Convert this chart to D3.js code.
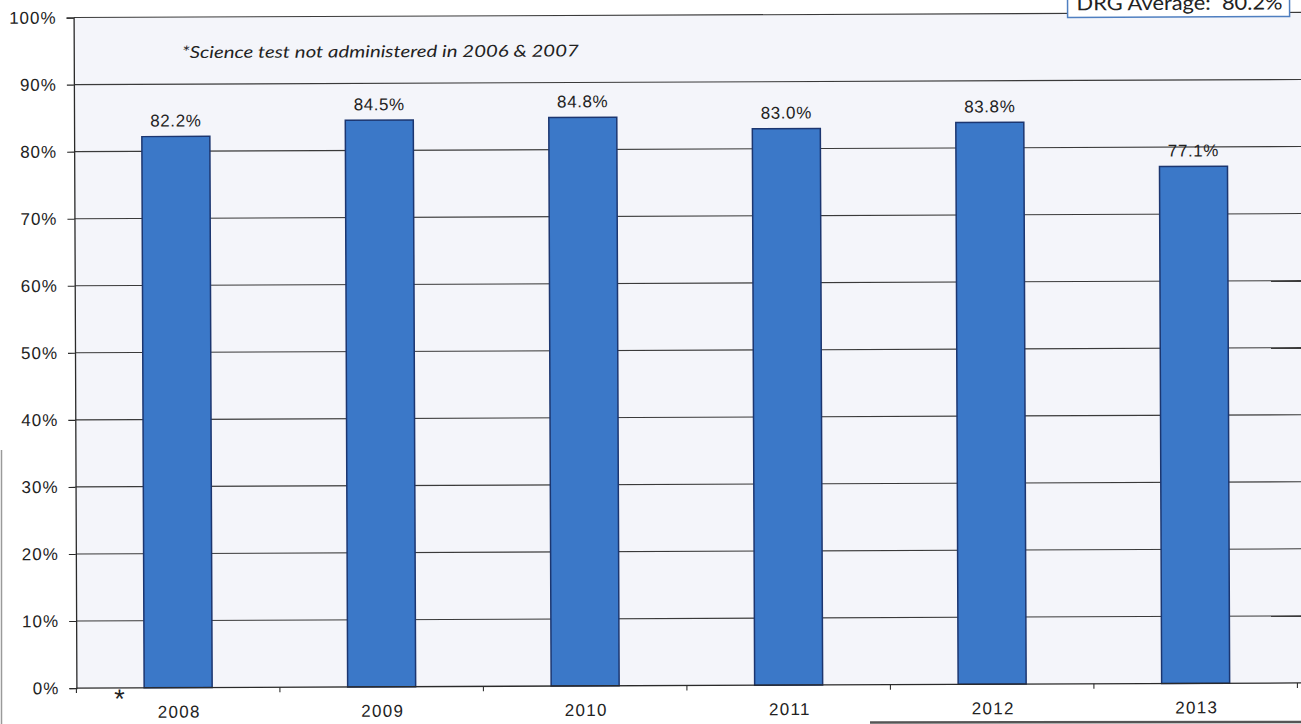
<!DOCTYPE html>
<html>
<head>
<meta charset="utf-8">
<script src="https://cdn.jsdelivr.net/npm/d3@7"></script>
<style>
  html, body { margin: 0; padding: 0; background: #ffffff; }
  svg { display: block; }
</style>
</head>
<body>
<svg id="chart" width="1301" height="724"></svg>
<script>
// Science results by year
const years = ["2008", "2009", "2010", "2011", "2012", "2013"];
const scores = [82.2, 84.5, 84.8, 83.0, 83.8, 77.1];
const yTicks = [0, 10, 20, 30, 40, 50, 60, 70, 80, 90, 100];
const noteText = "*Science test not administered in 2006 & 2007";
const averageText = "DRG Average:  80.2%";

const svg = d3.select("#chart");
const W = 1301, H = 724;

const plotLeft = 75, plotRight = 1296, plotTop = 15, plotBottom = 685.5;
const labelFont = "'Liberation Sans', Arial, sans-serif";

const x = d3.scaleBand().domain(years).range([plotLeft, plotRight]).padding(0);
const y = d3.scaleLinear().domain([0, 100]).range([plotBottom, plotTop]);
const barW = 68;

// whole chart sits very slightly tilted, like the printed page
const g = svg.append("g")
  .attr("transform", `rotate(-0.24, ${(plotLeft + plotRight) / 2}, ${(plotTop + plotBottom) / 2})`);

// plot area fill (runs off the right edge)
g.append("rect")
  .attr("x", plotLeft).attr("y", plotTop)
  .attr("width", W + 20 - plotLeft).attr("height", plotBottom - plotTop)
  .attr("fill", "#f4f5fa");

// horizontal gridlines
g.append("g")
  .selectAll("line")
  .data(yTicks.filter(d => d > 0))
  .join("line")
  .attr("x1", plotLeft).attr("x2", W + 20)
  .attr("y1", d => y(d)).attr("y2", d => y(d))
  .attr("stroke", "#3a3a3a")
  .attr("stroke-width", 1.1);

const rows = years.map((yr, i) => ({ yr, v: scores[i] }));

// bars
g.append("g")
  .selectAll("rect")
  .data(rows)
  .join("rect")
  .attr("x", d => x(d.yr) + x.bandwidth() / 2 - barW / 2)
  .attr("y", d => y(d.v))
  .attr("width", barW)
  .attr("height", d => y(0) - y(d.v))
  .attr("fill", "#3b78c8")
  .attr("stroke", "#1c3670")
  .attr("stroke-width", 1.5);

// value labels
g.append("g")
  .selectAll("text")
  .data(rows)
  .join("text")
  .attr("x", d => x(d.yr) + x.bandwidth() / 2)
  .attr("y", d => y(d.v) - 10)
  .attr("text-anchor", "middle")
  .attr("font-family", labelFont)
  .attr("font-size", 17)
  .attr("letter-spacing", 0.6)
  .attr("fill", "#222")
  .text(d => d.v.toFixed(1) + "%");

// y axis
const yAxis = d3.axisLeft(y)
  .tickValues(yTicks)
  .tickFormat(d => d + "%")
  .tickSize(7)
  .tickPadding(10);
const yg = g.append("g").attr("transform", `translate(${plotLeft},0)`).call(yAxis);
yg.select(".domain").attr("stroke", "#2a2a2a").attr("stroke-width", 1.3);
yg.selectAll(".tick line").attr("stroke", "#2a2a2a").attr("stroke-width", 1.1);
yg.selectAll(".tick text")
  .attr("font-family", labelFont)
  .attr("font-size", 17)
  .attr("letter-spacing", 1)
  .attr("fill", "#222");

// x axis with ticks at category boundaries
const xg = g.append("g").attr("transform", `translate(0,${plotBottom})`);
xg.append("line")
  .attr("x1", plotLeft).attr("x2", W + 20)
  .attr("y1", 0).attr("y2", 0)
  .attr("stroke", "#2a2a2a").attr("stroke-width", 1.3);
xg.selectAll("line.tk")
  .data(years.map(d => x(d)).concat([plotRight]))
  .join("line")
  .attr("class", "tk")
  .attr("x1", d => d).attr("x2", d => d)
  .attr("y1", 0).attr("y2", 5)
  .attr("stroke", "#2a2a2a").attr("stroke-width", 1.1);
xg.selectAll("text")
  .data(years)
  .join("text")
  .attr("x", d => x(d) + x.bandwidth() / 2 + 1)
  .attr("y", 30)
  .attr("text-anchor", "middle")
  .attr("font-family", labelFont)
  .attr("font-size", 17)
  .attr("letter-spacing", 1.3)
  .attr("fill", "#222")
  .text(d => d);

// asterisk under the first category
g.append("text")
  .attr("x", 118).attr("y", plotBottom + 20)
  .attr("text-anchor", "middle")
  .attr("font-family", labelFont)
  .attr("font-size", 27)
  .attr("fill", "#222")
  .text("*");

// footnote
g.append("text")
  .attr("x", 183).attr("y", 56)
  .attr("font-family", "Lato, 'Open Sans', sans-serif")
  .attr("font-style", "italic")
  .attr("font-size", 16.5)
  .attr("fill", "#222")
  .attr("textLength", 397)
  .attr("lengthAdjust", "spacingAndGlyphs")
  .text(noteText);

// average callout box
g.append("rect")
  .attr("x", 1069).attr("y", -10)
  .attr("width", 222).attr("height", 29)
  .attr("fill", "#ffffff")
  .attr("stroke", "#4f7fc0")
  .attr("stroke-width", 1.5);
g.append("text")
  .attr("x", 1078).attr("y", 12)
  .attr("font-family", "Lato, 'Open Sans', sans-serif")
  .attr("font-size", 20)
  .attr("fill", "#222")
  .attr("xml:space", "preserve")
  .style("white-space", "pre")
  .attr("textLength", 206)
  .attr("lengthAdjust", "spacingAndGlyphs")
  .text(averageText);

// page edges
svg.append("line")
  .attr("x1", 1.5).attr("x2", 1.5).attr("y1", 450).attr("y2", H)
  .attr("stroke", "#9a9a9a").attr("stroke-width", 1.5);
svg.append("line")
  .attr("x1", 870).attr("x2", W).attr("y1", 722.5).attr("y2", 722)
  .attr("stroke", "#555").attr("stroke-width", 2.5);
</script>
</body>
</html>
